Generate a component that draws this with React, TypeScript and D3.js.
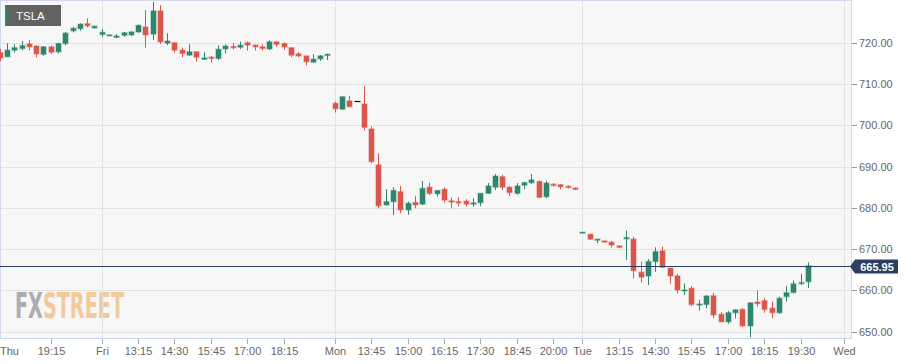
import React from 'react';
import * as d3 from 'd3';

// [open, high, low, close] per 15-minute slot
const thu = [
  [717.6, 718.5, 715.5, 716.3], [716.6, 719.85, 716.5, 718.2], [718.2, 719.6, 717.6, 718.8],
  [718.6, 720.4, 718.2, 719.3], [719.7, 720.6, 718.1, 719.0], [719.2, 719.4, 716.5, 717.3],
  [717.2, 719.2, 716.8, 719.0], [719.0, 719.3, 717.2, 717.7], [717.8, 720.0, 717.4, 719.8],
  [719.8, 722.6, 719.4, 722.3], [722.9, 723.8, 722.5, 723.5], [723.4, 724.7, 722.9, 724.5],
  [724.6, 725.9, 723.7, 724.1], [723.6, 724.1, 723.4, 724.0],
];
const fri = [
  [722.0, 723.3, 721.3, 722.5], [721.7, 721.95, 721.65, 721.9], [721.3, 722.1, 721.1, 721.6],
  [721.8, 722.6, 721.4, 722.4], [721.9, 722.8, 721.6, 722.6], [722.6, 724.4, 722.4, 724.2],
  [723.8, 727.9, 718.8, 721.9], [722.1, 729.9, 720.65, 727.7], [727.7, 729.1, 719.7, 720.2],
  [719.9, 722.3, 719.4, 720.4], [720.0, 720.1, 717.6, 718.2], [718.2, 718.8, 716.5, 717.4],
  [717.0, 719.6, 716.8, 717.8], [717.8, 717.9, 715.4, 716.5], [716.0, 717.7, 715.8, 716.3],
  [716.5, 716.8, 715.2, 716.2], [716.2, 719.4, 715.8, 718.4], [718.5, 719.6, 717.4, 719.2],
  [719.1, 719.9, 718.4, 718.8], [718.9, 720.3, 718.5, 719.4], [720.0, 720.3, 718.1, 719.4],
  [719.4, 719.5, 718.1, 719.0], [719.0, 719.6, 718.1, 718.6], [718.5, 720.6, 718.2, 720.2],
  [720.2, 720.3, 719.0, 719.6], [719.8, 720.0, 718.3, 719.0], [718.8, 718.8, 716.5, 717.0],
  [717.3, 717.7, 716.5, 716.8], [716.8, 716.9, 714.5, 715.4], [715.3, 717.2, 715.2, 716.0],
  [716.1, 717.0, 715.6, 716.8], [716.9, 717.4, 715.8, 717.2],
];
const mon = [
  [705.3, 705.7, 703.1, 704.0], [703.9, 707.0, 703.7, 706.9], [705.9, 707.1, 704.35, 704.5],
  [705.8, 705.8, 705.8, 705.8], [705.15, 709.5, 698.7, 699.5], [699.1, 699.7, 690.8, 691.2],
  [690.4, 693.2, 679.9, 680.5], [680.7, 684.5, 680.6, 681.5], [681.5, 685.0, 678.3, 684.2],
  [683.9, 685.3, 678.7, 679.5], [679.5, 681.5, 678.3, 681.1], [681.3, 682.9, 679.9, 680.7],
  [680.9, 686.5, 680.7, 684.7], [685.0, 686.1, 683.1, 683.5], [683.4, 684.3, 682.7, 684.2],
  [684.5, 685.0, 681.25, 681.9], [681.7, 682.5, 679.9, 681.4], [681.5, 682.6, 680.4, 681.2],
  [681.6, 682.1, 680.3, 680.9], [680.9, 682.3, 680.3, 681.2], [681.25, 683.5, 680.4, 683.5],
  [683.5, 686.0, 683.4, 685.3], [685.0, 688.2, 684.3, 687.7], [687.55, 688.0, 684.3, 685.0],
  [685.0, 685.3, 682.9, 683.7], [683.5, 686.0, 683.2, 685.3], [685.5, 686.3, 684.5, 686.1],
  [686.1, 688.2, 685.8, 686.75], [686.4, 686.6, 682.3, 682.55], [682.7, 686.6, 682.3, 686.0],
  [685.7, 686.0, 685.2, 685.4], [685.6, 685.7, 684.5, 685.1], [685.2, 685.5, 684.7, 684.9],
  [684.8, 684.9, 684.3, 684.5],
];
const tue = [
  [673.9, 674.1, 673.9, 674.1], [673.6, 673.7, 672.3, 672.4], [672.2, 672.4, 671.4, 672.4],
  [672.0, 672.0, 671.6, 671.7], [671.7, 672.0, 670.4, 671.0], [670.8, 670.8, 670.2, 670.45],
  [672.5, 674.5, 667.4, 672.8], [672.4, 673.0, 662.9, 664.8], [664.4, 667.0, 661.9, 663.2],
  [663.5, 667.6, 661.3, 667.0], [667.0, 670.45, 664.5, 669.4], [669.6, 670.6, 665.4, 665.6],
  [665.4, 665.5, 661.6, 663.5], [663.5, 664.0, 659.3, 660.1], [659.9, 661.7, 658.9, 660.1],
  [660.5, 661.1, 656.2, 656.6], [656.5, 657.7, 655.1, 656.7], [656.6, 658.9, 655.7, 658.65],
  [658.7, 659.45, 653.25, 654.05], [654.2, 654.8, 652.4, 652.4], [652.4, 655.0, 651.9, 654.6],
  [654.6, 655.4, 653.25, 655.3], [655.4, 655.7, 651.1, 651.4], [651.4, 657.0, 648.65, 657.0],
  [657.2, 660.0, 656.05, 656.8], [657.5, 658.2, 654.6, 655.4], [655.7, 657.3, 653.25, 654.6],
  [654.6, 658.5, 654.3, 658.1], [658.5, 661.1, 657.3, 659.45], [659.5, 662.4, 659.3, 661.6],
  [661.7, 664.0, 661.3, 661.9], [662.1, 666.8, 660.6, 665.95],
];
const sessions = [thu, fri, mon, tue];
const sessionStarts = [0, 14, 46, 80];

const tickSlots = [0, 7, 14, 19, 24, 29, 34, 39, 46, 51, 56, 61, 66, 71, 76, 80, 85, 90, 95, 100, 105, 110, 116];
const tickLabels = ['Thu', '19:15', 'Fri', '13:15', '14:30', '15:45', '17:00', '18:15', 'Mon', '13:45', '15:00',
  '16:15', '17:30', '18:45', '20:00', 'Tue', '13:15', '14:30', '15:45', '17:00', '18:15', '19:30', 'Wed'];
const priceTicks = [650, 660, 670, 680, 690, 700, 710, 720];
const lastPrice = 665.95;
const symbol = 'TSLA';

const W = 916, H = 364;
const plotR = 851, plotB = 338;
const UP = '#2e876d', DOWN = '#d9574a';
const FONT = 'Arial, "Liberation Sans", sans-serif';

export default function App() {
  const x = d3.scaleLinear().domain([0, 116]).range([-0.27, 844.4]);
  const y = d3.scaleLinear().domain([650, 720]).range([331.7, 42.7]);

  const candles = sessions.flatMap((s, k) =>
    s.map((d, j) => ({ slot: sessionStarts[k] + j, o: d[0], h: d[1], l: d[2], c: d[3] })));

  const yLast = Math.round(y(lastPrice)) + 0.5;

  return (
    <svg width={W} height={H} style={{ display: 'block', fontFamily: FONT }}>
      <style>{'body{margin:0}'}</style>
      <defs>
        <clipPath id="plot"><rect x={0} y={0} width={plotR} height={plotB} /></clipPath>
      </defs>
      <rect width={W} height={H} fill="#fff" />
      <rect x={0} y={0} width={plotR} height={plotB} fill="#f7f7f7" />

      {/* watermark */}
      <text x={15} y={318} opacity={0.85} fontFamily={'"DejaVu Sans Condensed", "Liberation Sans Narrow", sans-serif'}
        fontWeight="bold" fontSize={35} textLength={109} lengthAdjust="spacingAndGlyphs">
        <tspan fill="#9ea1a6">FX</tspan><tspan fill="#f1c28c">STREET</tspan>
      </text>

      {/* grid */}
      {priceTicks.map(v => (
        <line key={v} x1={0} x2={plotR} y1={Math.round(y(v)) + 0.5} y2={Math.round(y(v)) + 0.5} stroke="#e3e3e3" />
      ))}
      {tickSlots.map((s, i) => tickLabels[i].includes(':') || i === 0 ? null : (
        <line key={'g' + i} x1={Math.round(x(s)) + 0.5} x2={Math.round(x(s)) + 0.5} y1={0} y2={plotB} stroke="#e3e3e3" />
      ))}

      {/* borders */}
      <line x1={0} x2={plotR} y1={0.5} y2={0.5} stroke="#d3d9ec" />
      <line x1={0.5} x2={0.5} y1={0} y2={plotB} stroke="#d3d9ec" />
      <line x1={plotR + 0.5} x2={plotR + 0.5} y1={0} y2={plotB + 1} stroke="#ccd6eb" />
      <line x1={0} x2={plotR + 1} y1={plotB + 0.5} y2={plotB + 0.5} stroke="#ccd6eb" />

      {/* candles */}
      <g clipPath="url(#plot)">
        {candles.map(d => {
          const cx = Math.round(x(d.slot));
          const col = d.c > d.o ? UP : DOWN;
          const top = y(Math.max(d.o, d.c));
          const bot = y(Math.min(d.o, d.c));
          if (d.o === d.c) {
            return <line key={d.slot} x1={cx - 2.5} x2={cx + 3.5} y1={Math.round(top) + 0.5} y2={Math.round(top) + 0.5} stroke="#111" strokeWidth={1.2} />;
          }
          return (
            <g key={d.slot}>
              <line x1={cx + 0.5} x2={cx + 0.5} y1={y(d.h)} y2={y(d.l)} stroke={col} strokeWidth={1} />
              <rect x={cx - 2} y={top} width={5} height={Math.max(bot - top, 1)} fill={col}
                stroke={col} strokeOpacity={0.4} strokeWidth={1.4} />
            </g>
          );
        })}
      </g>

      {/* last price line */}
      <line x1={0} x2={plotR} y1={yLast} y2={yLast} stroke="#2b3f63" strokeWidth={1.2} />
      <path d={`M${plotR - 1},${yLast} L${plotR + 4},${yLast - 7} L${plotR + 47},${yLast - 7} L${plotR + 47},${yLast + 7} L${plotR + 4},${yLast + 7} Z`} fill="#2b3f63" />
      <text x={plotR + 26} y={yLast + 4} fill="#fff" fontSize={11} fontWeight="bold" textAnchor="middle">{lastPrice.toFixed(2)}</text>

      {/* y axis */}
      {priceTicks.map(v => (
        <g key={'y' + v}>
          <line x1={plotR + 1} x2={plotR + 6} y1={Math.round(y(v)) + 0.5} y2={Math.round(y(v)) + 0.5} stroke="#999" />
          <text x={plotR + 8} y={y(v) + 4} fill="#666" fontSize={11}>{v.toFixed(2)}</text>
        </g>
      ))}

      {/* x axis */}
      {tickSlots.map((s, i) => {
        const px = Math.round(x(s)) + 0.5;
        const edge = px < 12;
        return (
          <g key={'x' + i}>
            {!edge && <line x1={px} x2={px} y1={plotB + 1} y2={plotB + 6} stroke="#aaa" />}
            <text x={edge ? 0 : px} y={355} fill="#666" fontSize={11} textAnchor={edge ? 'start' : 'middle'}>{tickLabels[i]}</text>
          </g>
        );
      })}

      {/* symbol badge */}
      <rect x={5} y={5} width={56} height={21} fill="#626262" />
      <rect x={5} y={5} width={2} height={21} fill={UP} />
      <text x={16} y={20} fill="#fff" fontSize={11.5}>{symbol}</text>
    </svg>
  );
}
